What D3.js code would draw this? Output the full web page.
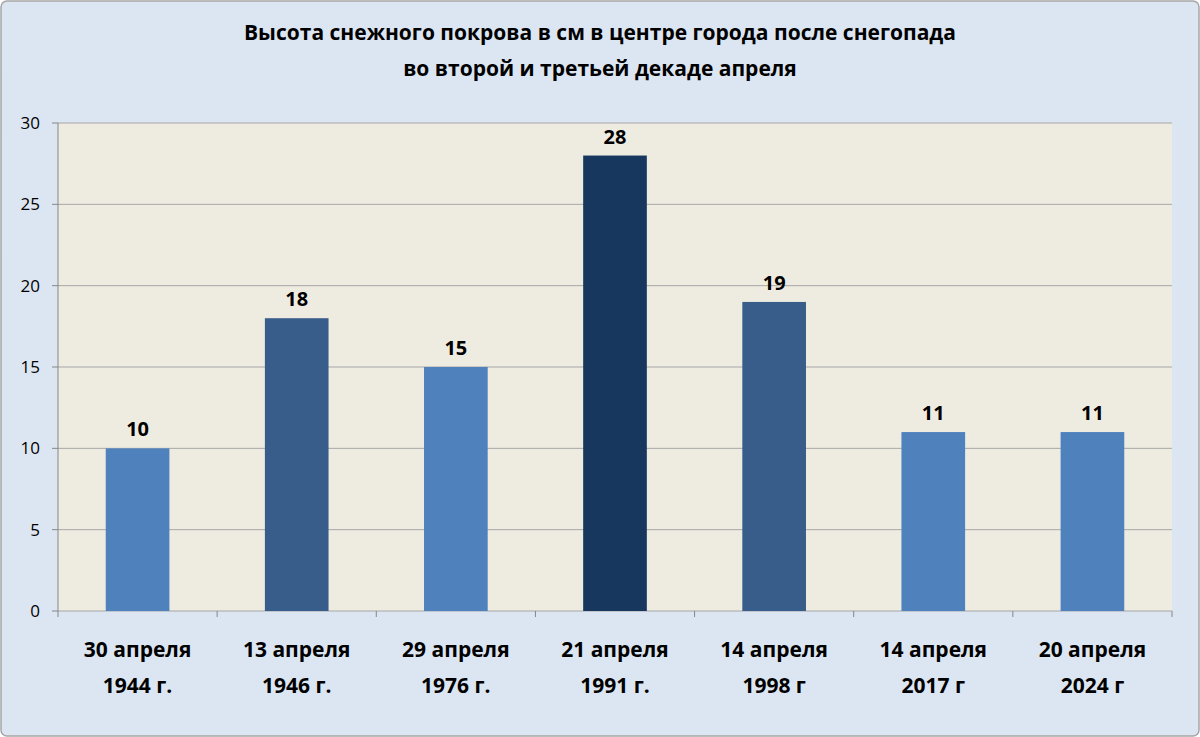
<!DOCTYPE html>
<html><head><meta charset="utf-8">
<script src="https://cdn.jsdelivr.net/npm/d3@7"></script>
<style>body{margin:0;background:#fff}svg{display:block}</style>
</head><body>
<svg id="c" width="1200" height="737"></svg>
<script>
const categories = [["30 апреля","1944 г."],["13 апреля","1946 г."],["29 апреля","1976 г."],["21 апреля","1991 г."],["14 апреля","1998 г"],["14 апреля","2017 г"],["20 апреля","2024 г"]];
const values = [10,18,15,28,19,11,11];
const barColors = ["#4f81bd","#385d8a","#4f81bd","#17375e","#385d8a","#4f81bd","#4f81bd"];
const yTicks = [0,5,10,15,20,25,30];
const titleLines = ["Высота снежного покрова в см в центре города после снегопада","во второй и третьей декаде апреля"];

const svg = d3.select("#c");
const font = "'Open Sans', 'Liberation Sans', sans-serif";
svg.append("rect").attr("x",1).attr("y",1).attr("width",1198).attr("height",735).attr("rx",6)
  .attr("fill","#dce6f2").attr("stroke","#a6a6a6").attr("stroke-width",1.5);
const L=58,R=1172,T=123,B=611;
svg.append("rect").attr("x",L).attr("y",T).attr("width",R-L).attr("height",B-T).attr("fill","#eeece1");
const x = d3.scaleBand().domain(d3.range(values.length)).range([L,R]).paddingInner(0.6).paddingOuter(0.3);
const y = d3.scaleLinear().domain([0,30]).range([B,T]);
svg.append("g").selectAll("line").data(yTicks).join("line")
  .attr("x1",L).attr("x2",R).attr("y1",d=>y(d)).attr("y2",d=>y(d))
  .attr("stroke","#a6a6a6").attr("stroke-width",1);
svg.append("line").attr("x1",L).attr("x2",L).attr("y1",T).attr("y2",B).attr("stroke","#868686");
svg.append("g").selectAll("line").data(d3.range(values.length+1)).join("line")
  .attr("x1",i=>L+i*(R-L)/values.length).attr("x2",i=>L+i*(R-L)/values.length)
  .attr("y1",B).attr("y2",B+6).attr("stroke","#868686");
svg.append("g").selectAll("line").data(yTicks).join("line")
  .attr("x1",L-6).attr("x2",L).attr("y1",d=>y(d)).attr("y2",d=>y(d)).attr("stroke","#868686");
svg.append("g").selectAll("text").data(yTicks).join("text")
  .attr("x",L-18).attr("y",d=>y(d)+6).attr("text-anchor","end")
  .attr("font-family",font).attr("font-size",17).attr("fill","#000").text(d=>d);
svg.append("g").selectAll("rect").data(values).join("rect")
  .attr("x",(d,i)=>x(i)).attr("width",x.bandwidth()).attr("y",d=>y(d)).attr("height",d=>B-y(d))
  .attr("fill",(d,i)=>barColors[i]);
svg.append("g").selectAll("text").data(values).join("text")
  .attr("x",(d,i)=>x(i)+x.bandwidth()/2).attr("y",d=>y(d)-12).attr("text-anchor","middle")
  .attr("font-family",font).attr("font-weight","bold").attr("font-size",20).text(d=>d);
const cg = svg.append("g").selectAll("text").data(categories).join("text")
  .attr("text-anchor","middle").attr("font-family",font).attr("font-weight","bold").attr("font-size",21);
cg.each(function(d,i){
  const cx = x(i)+x.bandwidth()/2;
  d3.select(this).selectAll("tspan").data(d).join("tspan").attr("x",cx)
    .attr("y",(t,j)=>657+j*36).text(t=>t);
});
svg.append("g").selectAll("text").data(titleLines).join("text")
  .attr("x",600).attr("y",(d,i)=>40+i*36).attr("text-anchor","middle")
  .attr("font-family",font).attr("font-weight","bold").attr("font-size",21).text(d=>d);
</script>
</body></html>
